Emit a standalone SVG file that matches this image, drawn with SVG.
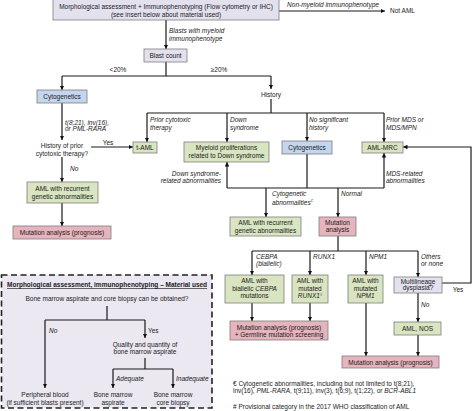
<svg xmlns="http://www.w3.org/2000/svg" width="474" height="411" viewBox="0 0 474 411">
<defs>
<marker id="ah" viewBox="0 0 10 10" refX="10" refY="5" markerWidth="4.5" markerHeight="4.5" markerUnits="userSpaceOnUse" orient="auto"><path d="M0,0 L10,5 L0,10 z" fill="#111"/></marker>
<style>
text{font-family:"Liberation Sans",Arial,sans-serif;font-size:6.5px;fill:#1a1a1a}
.c{text-anchor:middle}
.r{text-anchor:end}
.i{font-style:italic}
.box{stroke:#7d7d7d;stroke-width:0.8}
.g{fill:#d9e4c1}
.b{fill:#c4d5ee}
.p{fill:#e6b4bc}
.l{fill:#e4e1ee}
.ln{fill:none;stroke:#1a1a1a;stroke-width:1.2}
.a{marker-end:url(#ah)}
</style>
</defs>
<rect width="474" height="411" fill="#fff"/>

<g id="insert">
<rect x="1.5" y="275" width="210.5" height="133" fill="#ebe8f2" stroke="#222" stroke-width="1.6" stroke-dasharray="6,3.5"/>
<text x="7" y="287.3" font-weight="bold" text-decoration="underline" font-size="6.2">Morphological assessment, immunophenotyping – Material used</text>
<text x="107" y="301.3" class="c">Bone marrow aspirate and core biopsy can be obtained?</text>
<path class="ln" d="M107,306 V320 M45,320 H145"/>
<path class="ln a" d="M45,320 V388"/>
<path class="ln a" d="M145,320 V338"/>
<text x="49" y="333.3" class="i">No</text>
<text x="148" y="333.3">Yes</text>
<text x="145" y="347.3" class="c">Quality and quantity of</text>
<text x="145" y="354" class="c">bone marrow aspirate</text>
<path class="ln" d="M145,358 V369 M113,369 H173"/>
<path class="ln a" d="M113,369 V388"/>
<path class="ln a" d="M173,369 V388"/>
<text x="116" y="381.3" class="i">Adequate</text>
<text x="176" y="381.3" class="i">Inadequate</text>
<text x="45" y="396.6" class="c">Peripheral blood</text>
<text x="45" y="405" class="c">(if sufficient blasts present)</text>
<text x="113" y="396.6" class="c">Bone marrow</text>
<text x="113" y="405" class="c">aspirate</text>
<text x="173" y="396.6" class="c">Bone marrow</text>
<text x="173" y="405" class="c">core biopsy</text>
</g>

<g id="connectors">
<path class="ln a" d="M279,11 H385"/>
<path class="ln a" d="M166,20 V49"/>
<path class="ln" d="M166,62 V76 M62,76 H271"/>
<path class="ln a" d="M62,76 V90"/>
<path class="ln a" d="M271,76 V89"/>
<path class="ln" d="M271,99 V113 M147,113 H384"/>
<path class="ln a" d="M147,113 V142"/>
<path class="ln a" d="M227,113 V142"/>
<path class="ln a" d="M307,113 V141"/>
<path class="ln a" d="M384,113 V142"/>
<path class="ln a" d="M62,103 V140"/>
<path class="ln a" d="M91,147 H133"/>
<path class="ln a" d="M62,157 V182"/>
<path class="ln a" d="M62,203 V226"/>
<path class="ln" d="M307,154 V188 M227,188 H384"/>
<path class="ln a" d="M227,188 V162"/>
<path class="ln a" d="M384,188 V153"/>
<path class="ln a" d="M266,188 V217"/>
<path class="ln a" d="M338,188 V217"/>
<path class="ln" d="M338,236 V251 M252,251 H418"/>
<path class="ln a" d="M252,251 V275"/>
<path class="ln a" d="M310,251 V275"/>
<path class="ln a" d="M366,251 V275"/>
<path class="ln a" d="M418,251 V277"/>
<path class="ln a" d="M252,303 V321"/>
<path class="ln a" d="M310,303 V321"/>
<path class="ln a" d="M366,303 V356"/>
<path class="ln a" d="M418,293 V322"/>
<path class="ln a" d="M418,335 V356"/>
<path class="ln a" d="M442,283 H471 V147 H403"/>
<text x="333" y="6.5" class="c i">Non-myeloid immunophenotype</text>
<text x="169" y="33" class="i">Blasts with myeloid</text>
<text x="169" y="40.6" class="i">immunophenotype</text>
<text x="118" y="72.3" class="c">&lt;20%</text>
<text x="219" y="72.3" class="c">≥20%</text>
<text x="65" y="124.6" class="i">t(8;21), inv(16),</text>
<text x="65" y="131.3" class="i">or PML-RARA</text>
<text x="108" y="144.6" class="c">Yes</text>
<text x="70" y="171.3" class="i">No</text>
<text x="150" y="121.6" class="i">Prior cytotoxic</text>
<text x="150" y="129.6" class="i">therapy</text>
<text x="230" y="121.6" class="i">Down</text>
<text x="230" y="129.6" class="i">syndrome</text>
<text x="309" y="121.6" class="i">No significant</text>
<text x="309" y="129.6" class="i">history</text>
<text x="386" y="121.6" class="i">Prior MDS or</text>
<text x="386" y="129.6" class="i">MDS/MPN</text>
<text x="221" y="175.6" class="r i">Down syndrome-</text>
<text x="221" y="183" class="r i">related abnormalities</text>
<text x="386" y="175.6" class="i">MDS-related</text>
<text x="386" y="182.6" class="i">abnormalities</text>
<text x="272" y="196.3" class="i">Cytogenetic</text>
<text x="272" y="204.6" class="i">abnormalities<tspan font-size="4" dy="-2.5">€</tspan></text>
<text x="341" y="196.3" class="i">Normal</text>
<text x="256" y="259" class="i">CEBPA</text>
<text x="256" y="266.3" class="i">(biallelic)</text>
<text x="313" y="259" class="i">RUNX1</text>
<text x="369" y="259" class="i">NPM1</text>
<text x="421" y="259" class="i">Others</text>
<text x="421" y="266.3" class="i">or none</text>
<text x="458" y="291.6" class="c">Yes</text>
<text x="421" y="307.3" class="i">No</text>
</g>

<g id="top">
<rect class="box l" x="53" y="-1" width="226" height="21"/>
<text x="166" y="9.3" class="c">Morphological assessment + Immunophenotyping (Flow cytometry or IHC)</text>
<text x="166" y="17" class="c">(see insert below about material used)</text>
</g>
<g id="notaml"><text x="390" y="13.3">Not AML</text></g>
<g id="blast"><rect class="box l" x="144" y="49" width="43" height="13"/><text x="165.5" y="58" class="c">Blast count</text></g>
<g id="history"><text x="271" y="96.8" class="c">History</text></g>
<g id="cyto1"><rect class="box b" x="37" y="90" width="50" height="13"/><text x="62" y="99" class="c">Cytogenetics</text></g>
<g id="histq"><text x="62" y="148.3" class="c">History of prior</text><text x="62" y="155.6" class="c">cytotoxic therapy?</text></g>
<g id="amlrec1"><rect class="box g" x="27" y="182" width="71" height="21"/><text x="62.5" y="191.3" class="c">AML with recurrent</text><text x="62.5" y="199" class="c">genetic abnormalities</text></g>
<g id="mut1"><rect class="box p" x="13" y="226" width="98" height="13"/><text x="62" y="235" class="c">Mutation analysis (prognosis)</text></g>
<g id="taml"><rect class="box g" x="133" y="142" width="24" height="11"/><text x="145" y="149.8" class="c">t-AML</text></g>
<g id="myeloid"><rect class="box g" x="184" y="142" width="85" height="20"/><text x="226.5" y="150" class="c">Myeloid proliferations</text><text x="226.5" y="157.5" class="c">related to Down syndrome</text></g>
<g id="cyto2"><rect class="box b" x="282" y="141" width="50" height="13"/><text x="307" y="150" class="c">Cytogenetics</text></g>
<g id="amlmrc"><rect class="box g" x="362" y="142" width="41" height="11"/><text x="382.5" y="149.8" class="c">AML-MRC</text></g>
<g id="amlrec2"><rect class="box g" x="230" y="217" width="71" height="19"/><text x="265.5" y="225" class="c">AML with recurrent</text><text x="265.5" y="233" class="c">genetic abnormalities</text></g>
<g id="mut2"><rect class="box p" x="319" y="217" width="37" height="19"/><text x="337.5" y="224.6" class="c">Mutation</text><text x="337.5" y="232.2" class="c">analysis</text></g>
<g id="cebpa"><rect class="box g" x="225" y="275" width="59" height="28"/><text x="254.5" y="283" class="c">AML with</text><text x="254.5" y="290.6" class="c">biallelic <tspan class="i">CEBPA</tspan></text><text x="254.5" y="298.3" class="c">mutations</text></g>
<g id="runx1"><rect class="box g" x="292" y="275" width="36" height="28"/><text x="310" y="283" class="c">AML with</text><text x="310" y="290.6" class="c">mutated</text><text x="310" y="298.3" class="c"><tspan class="i">RUNX1</tspan><tspan font-size="4" dy="-2.5">#</tspan></text></g>
<g id="npm1"><rect class="box g" x="348" y="275" width="35" height="28"/><text x="365.5" y="283" class="c">AML with</text><text x="365.5" y="290.6" class="c">mutated</text><text x="365.5" y="298.3" class="c i">NPM1</text></g>
<g id="multi"><rect class="box l" x="394" y="277" width="48" height="16"/><text x="418" y="283.5" class="c">Multilineage</text><text x="418" y="290.2" class="c">dysplasia?</text></g>
<g id="nos"><rect class="box g" x="394" y="322" width="47" height="13"/><text x="417.5" y="331" class="c">AML, NOS</text></g>
<g id="mutgerm"><rect class="box p" x="230" y="321" width="98" height="19"/><text x="279" y="329.6" class="c">Mutation analysis (prognosis)</text><text x="279" y="337.3" class="c">+ Germline mutation screening</text></g>
<g id="mut3"><rect class="box p" x="342" y="356" width="97" height="12"/><text x="390.5" y="364.5" class="c">Mutation analysis (prognosis)</text></g>
<g id="footnotes">
<text x="233" y="386.3">€  Cytogenetic abnormalities, including but not limited to t(8;21),</text>
<text x="233" y="393.3">inv(16), <tspan class="i">PML-RARA</tspan>, t(9;11), inv(3), t(6;9), t(1;22), or <tspan class="i">BCR-ABL1</tspan></text>
<text x="233" y="409.3"># Provisional category in the 2017 WHO classification of AML</text>
</g>
</svg>
